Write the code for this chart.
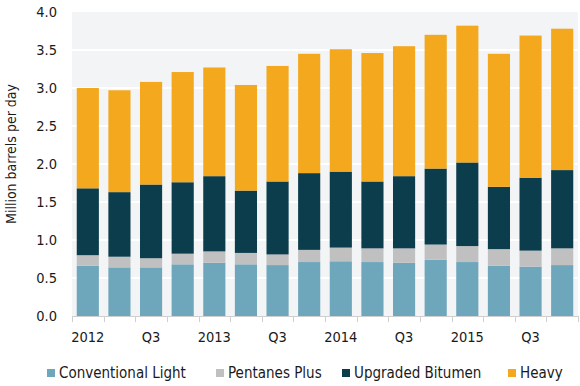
<!DOCTYPE html>
<html lang="en">
  <head>
    <meta charset="UTF-8" />
    <title>Crude oil production by type</title>
    <script src="https://d3js.org/d3.v7.min.js"></script>
    <style>
      body { margin: 0; background: #fff; }
      text { font-family: 'DejaVu Sans Condensed', 'DejaVu Sans', sans-serif; fill: #1a1a1a; }
    </style>
  </head>
  <body>
    <div id="chart"></div>

    <script>
      const quarters = ['2012', 'Q2', 'Q3', 'Q4', '2013', 'Q2', 'Q3', 'Q4',
        '2014', 'Q2', 'Q3', 'Q4', '2015', 'Q2', 'Q3', 'Q4'];
      const seriesNames = ['Conventional Light', 'Pentanes Plus', 'Upgraded Bitumen', 'Heavy'];
      const conventionalLight = [0.66, 0.64, 0.64, 0.68, 0.70, 0.68, 0.67, 0.71,
        0.72, 0.71, 0.70, 0.74, 0.71, 0.66, 0.65, 0.67];
      const pentanesPlus = [0.14, 0.14, 0.12, 0.14, 0.15, 0.15, 0.14, 0.16,
        0.18, 0.18, 0.19, 0.20, 0.21, 0.22, 0.21, 0.22];
      const upgradedBitumen = [0.88, 0.85, 0.97, 0.94, 0.99, 0.82, 0.96, 1.01,
        1.00, 0.88, 0.95, 1.00, 1.10, 0.82, 0.96, 1.03];
      const heavy = [1.32, 1.34, 1.35, 1.45, 1.43, 1.39, 1.52, 1.57,
        1.61, 1.69, 1.71, 1.76, 1.80, 1.75, 1.87, 1.86];
      const yTicks = [0, 0.5, 1, 1.5, 2, 2.5, 3, 3.5, 4];

      const colors = ['#6ea6bc', '#c1c0c0', '#0c3d4c', '#f3a81e'];

      const width = 580;
      const height = 386;
      const margin = { top: 12, right: 2, bottom: 70, left: 72 };

      const rows = quarters.map((q, i) => ({
        key: i,
        'Conventional Light': conventionalLight[i],
        'Pentanes Plus': pentanesPlus[i],
        'Upgraded Bitumen': upgradedBitumen[i],
        Heavy: heavy[i],
      }));
      const stacked = d3.stack().keys(seriesNames)(rows);

      const svg = d3
        .select('#chart')
        .append('svg')
        .attr('width', width)
        .attr('height', height);

      const x = d3
        .scaleBand()
        .domain(rows.map((d) => d.key))
        .range([margin.left, width - margin.right])
        .paddingInner(0.3)
        .paddingOuter(0.15);

      const y = d3
        .scaleLinear()
        .domain([0, 4])
        .range([height - margin.bottom, margin.top]);

      // plot background
      svg
        .append('rect')
        .attr('x', margin.left)
        .attr('y', margin.top)
        .attr('width', width - margin.right - margin.left)
        .attr('height', y(0) - margin.top)
        .attr('fill', '#f3f4f6');

      // white gridlines
      svg
        .append('g')
        .selectAll('line')
        .data(yTicks.slice(1, -1))
        .enter()
        .append('line')
        .attr('x1', margin.left)
        .attr('x2', width - margin.right)
        .attr('y1', (d) => y(d))
        .attr('y2', (d) => y(d))
        .attr('stroke', '#fff')
        .attr('stroke-width', 2);

      svg
        .append('g')
        .selectAll('g')
        .data(stacked)
        .enter()
        .append('g')
        .attr('fill', (d, i) => colors[i])
        .selectAll('rect')
        .data((d) => d)
        .enter()
        .append('rect')
        .attr('x', (d) => x(d.data.key))
        .attr('y', (d) => y(d[1]))
        .attr('width', x.bandwidth())
        .attr('height', (d) => y(d[0]) - y(d[1]));

      // y axis labels
      svg
        .append('g')
        .selectAll('text')
        .data(yTicks)
        .enter()
        .append('text')
        .attr('x', 57)
        .attr('y', (d) => y(d))
        .attr('dy', '0.36em')
        .attr('text-anchor', 'end')
        .style('font-size', '14.5px')
        .text((d) => d3.format('.1f')(d));

      // x axis line and ticks between bands
      const step = x.step();
      const x0 = margin.left;
      svg
        .append('line')
        .attr('x1', x0)
        .attr('x2', width - margin.right)
        .attr('y1', y(0) + 0.5)
        .attr('y2', y(0) + 0.5)
        .attr('stroke', '#cfcfcf');

      const tickPos = d3.range(quarters.length + 1).map((i) =>
        x0 + (width - margin.right - x0) * i / quarters.length
      );
      svg
        .append('g')
        .selectAll('line')
        .data(tickPos)
        .enter()
        .append('line')
        .attr('x1', (d) => Math.round(d) + 0.5)
        .attr('x2', (d) => Math.round(d) + 0.5)
        .attr('y1', y(0))
        .attr('y2', y(0) + 6)
        .attr('stroke', '#cfcfcf');

      svg
        .append('g')
        .selectAll('text')
        .data(rows.filter((d, i) => i % 2 === 0))
        .enter()
        .append('text')
        .attr('x', (d) => x(d.key) + x.bandwidth() / 2)
        .attr('y', 342)
        .attr('text-anchor', 'middle')
        .style('font-size', '14.5px')
        .text((d) => quarters[d.key]);

      // y axis title
      svg
        .append('text')
        .attr('transform', 'translate(16,' + 154 + ') rotate(-90)')
        .attr('text-anchor', 'middle')
        .style('font-size', '14px')
        .text('Million barrels per day');

      // legend
      const legendX = [47, 216, 342, 508];
      const legend = svg
        .append('g')
        .selectAll('g')
        .data(seriesNames)
        .enter()
        .append('g')
        .attr('transform', (d, i) => 'translate(' + legendX[i] + ',369)');

      legend
        .append('rect')
        .attr('width', 8)
        .attr('height', 8)
        .attr('fill', (d, i) => colors[i]);

      legend
        .append('text')
        .attr('x', 12)
        .attr('y', 4)
        .attr('dy', '0.36em')
        .style('font-size', '15px')
        .text((d) => d);
    </script>
  </body>
</html>
